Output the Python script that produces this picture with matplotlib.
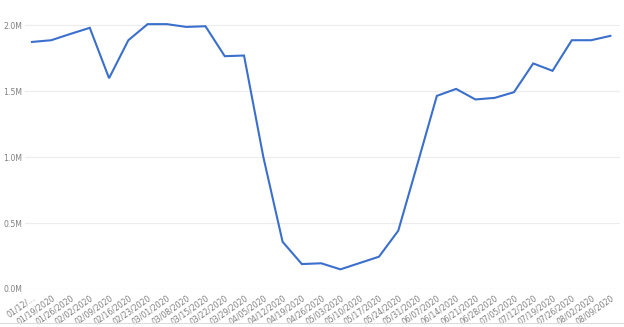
import matplotlib.pyplot as plt
from matplotlib.lines import Line2D
from matplotlib.ticker import FuncFormatter

# weekly dates (labels as shown on the axis)
dates = ["01/12/...", "01/19/2020", "01/26/2020", "02/02/2020", "02/09/2020",
         "02/16/2020", "02/23/2020", "03/01/2020", "03/08/2020", "03/15/2020",
         "03/22/2020", "03/29/2020", "04/05/2020", "04/12/2020", "04/19/2020",
         "04/26/2020", "05/03/2020", "05/10/2020", "05/17/2020", "05/24/2020",
         "05/31/2020", "06/07/2020", "06/14/2020", "06/21/2020", "06/28/2020",
         "07/05/2020", "07/12/2020", "07/19/2020", "07/26/2020", "08/02/2020",
         "08/09/2020"]

# values in millions
values = [1.873, 1.886, 1.934, 1.980, 1.598, 1.886, 2.008, 2.008, 1.987, 1.992,
          1.765, 1.770, 1.002, 0.358, 0.189, 0.195, 0.149, 0.197, 0.245, 0.442,
          0.950, 1.464, 1.517, 1.437, 1.449, 1.492, 1.710, 1.654, 1.886, 1.886,
          1.919]

yticks = [0.0, 0.5, 1.0, 1.5, 2.0]

fig = plt.figure(figsize=(6.24, 3.27), dpi=100)
ax = fig.add_axes([25 / 624, 1 - 289 / 327, 595 / 624, 277 / 327])

x = list(range(len(dates)))
ax.plot(x, [v * 1e6 for v in values], color="#3b6fcc", linewidth=1.5,
        solid_joinstyle="miter")

ax.set_xlim(-0.36, len(dates) - 0.5)
ax.set_ylim(0, 2.1e6)
ax.set_yticks([t * 1e6 for t in yticks])
ax.yaxis.set_major_formatter(FuncFormatter(lambda v, p: f"{v / 1e6:.1f}M"))
ax.set_xticks(x)
ax.set_xticklabels(dates, rotation=35, ha="right", rotation_mode="anchor")

ax.grid(axis="y", color="#ececec", linewidth=0.8)
ax.set_axisbelow(True)
for s in ax.spines.values():
    s.set_visible(False)
ax.tick_params(axis="both", length=0, labelsize=5.6, labelcolor="#808080")
ax.tick_params(axis="x", pad=3)
ax.tick_params(axis="y", pad=2)

# bottom border line
fig.add_artist(Line2D([0, 1], [1 - 323 / 327] * 2, color="#dcdcdc",
                      linewidth=0.8, transform=fig.transFigure))

fig.savefig("out.png", dpi=100)
